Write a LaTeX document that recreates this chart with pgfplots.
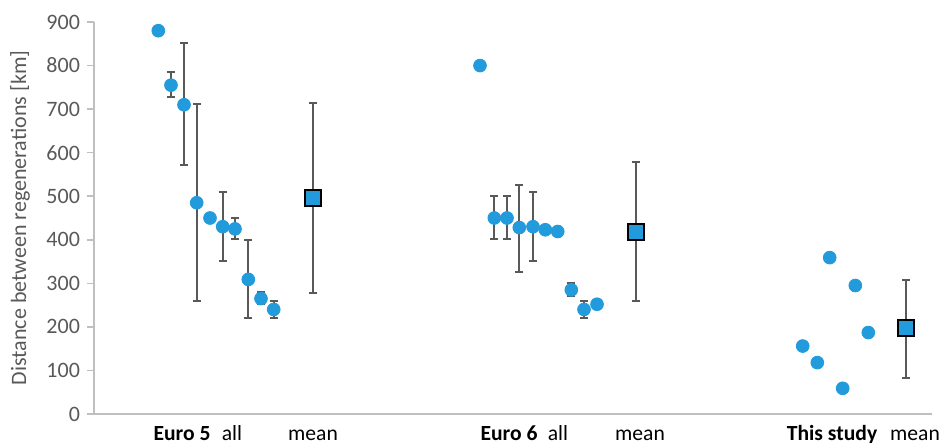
\documentclass[border=0pt]{standalone}
\usepackage{pgfplots}
\pgfplotsset{compat=1.18}
\usepackage{fontspec}
\setmainfont{Carlito}
\definecolor{ptblue}{HTML}{219BDB}
\definecolor{errgray}{HTML}{595959}
\definecolor{axgray}{HTML}{BFBFBF}
\definecolor{lblgray}{HTML}{595959}

% Single measurements (x = horizontal slot, y = km between regenerations)
\pgfplotstableread{
x     y
158.3 880
171.0 755
184.0 710
196.7 485
210.0 450
222.7 430
235.0 425
248.3 309
261.0 265
273.7 240
480.0 800
494.3 450
507.0 450
519.3 428
533.0 430
545.3 423
557.7 419
571.3 285
584.0 240
597.0 252
802.7 156
817.3 118
829.7 359
842.7 59
855.3 295
868.3 187
}\points

% Measurements that carry a range: upper and lower deviation
\pgfplotstableread{
x     y    ep  em
171.0 755  30  27
184.0 710  142 138
196.7 485  226 225
222.7 430  80  78
235.0 425  26  23
248.3 309  91  88
261.0 265  16  13
273.7 240  20  19
494.3 450  51  49
507.0 450  51  49
519.3 428  98  101
533.0 430  80  79
571.3 285  16  14
584.0 240  20  19
}\ranges

% Group means
\pgfplotstableread{
x     y    ep  em
313.3 495  218 217
636.0 418  160 158
906.0 197  111 114
}\means

\pgfplotsset{
  rangebars/.style={draw=none, mark=none, forget plot,
    error bars/.cd, y dir=both, y explicit,
    error mark=|,
    error mark options={mark size=2pt, line width=1pt, draw=errgray},
    error bar style={draw=errgray, line width=1pt, solid}},
}

\begin{document}
\begin{tikzpicture}
\path[use as bounding box] (0,0) rectangle (470.5pt,221.5pt);
\begin{axis}[
  at={(47pt,14.5pt)}, anchor=south west,
  scale only axis, width=419pt, height=196pt,
  xmin=94, xmax=932, ymin=0, ymax=900,
  axis lines*=left,
  axis line style={draw=axgray, line width=0.75pt},
  ytick={0,100,...,900},
  ytick style={draw=axgray, line width=0.75pt},
  tick align=outside, major tick length=3.5pt,
  yticklabel style={font=\fontsize{11}{13}\selectfont, text=lblgray},
  /pgf/number format/assume math mode=true,
  xtick={182,232,313,509,558,640,832,915},
  xticklabels={\textbf{Euro 5}, all, mean, \textbf{Euro 6}, all, mean, \textbf{This study}, mean},
  xticklabel style={font=\fontsize{10.8}{12}\selectfont, text=black,
                    text height=7.5pt, text depth=2pt, yshift=1.5pt},
  xtick style={draw=none},
  ylabel={Distance between regenerations [km]},
  ylabel style={at={(axis description cs:-0.0883,0.5)}, anchor=center,
                font=\fontsize{11}{13}\selectfont, text=lblgray},
  clip=false,
]
% ranges first, so the dots sit on top of them
\addplot[rangebars] table[x=x, y=y, y error plus=ep, y error minus=em] {\ranges};
\addplot[rangebars] table[x=x, y=y, y error plus=ep, y error minus=em] {\means};
% individual values
\addplot[only marks, mark=*, mark size=3.2pt,
  mark options={fill=ptblue, draw=ptblue}]
  table[x=x, y=y] {\points};
% means
\addplot[only marks, mark=square*, mark size=4pt,
  mark options={fill=ptblue, draw=black, line width=0.9pt}]
  table[x=x, y=y] {\means};
\end{axis}
\end{tikzpicture}
\end{document}
